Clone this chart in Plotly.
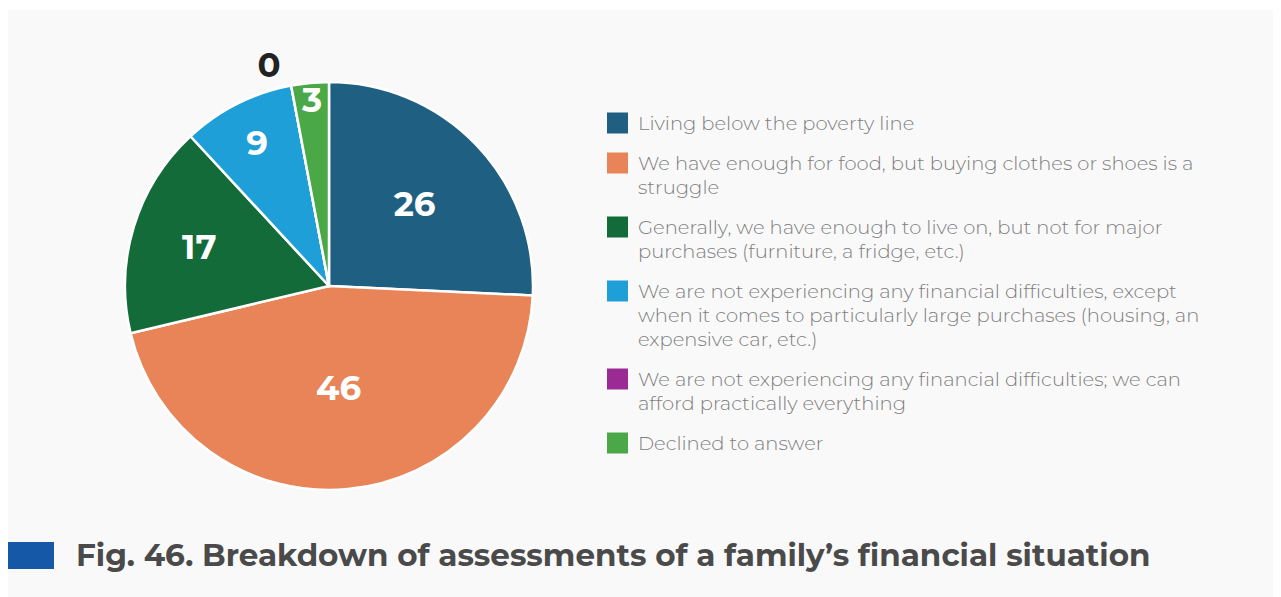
import plotly.graph_objects as go

categories = [
    "Living below the poverty line",
    "We have enough for food, but buying clothes or shoes is a<br>struggle",
    "Generally, we have enough to live on, but not for major<br>purchases (furniture, a fridge, etc.)",
    "We are not experiencing any financial difficulties, except<br>when it comes to particularly large purchases (housing, an<br>expensive car, etc.)",
    "We are not experiencing any financial difficulties; we can<br>afford practically everything",
    "Declined to answer",
]
values = [26, 46, 17, 9, 0, 3]
colors = ["#1f5f82", "#e88457", "#146b3a", "#1f9fd8", "#9c2a95", "#4aa846"]
title_text = "Fig. 46. Breakdown of assessments of a family\u2019s financial situation"

# page has an 8px body margin; figure occupies page pixels 8..1281, 8..597
OX, OY = 8, 8
W, H = 1281 - OX, 597 - OY

def px(x):
    return (x - OX) / W

def py(y):
    return (H - (y - OY)) / H

fig = go.Figure()

textpos = ["inside" if v > 0 else "outside" for v in values]
fig.add_trace(go.Pie(
    labels=[c.replace("<br>", " ") for c in categories],
    values=values,
    sort=False,
    direction="clockwise",
    rotation=0,
    marker=dict(colors=colors, line=dict(color="white", width=2.5)),
    textinfo="value",
    textposition=textpos,
    insidetextorientation="horizontal",
    insidetextfont=dict(family="Montserrat, Lato, Open Sans, sans-serif", size=34, color="white", weight=700),
    outsidetextfont=dict(family="Montserrat, Lato, Open Sans, sans-serif", size=32, color="#222222", weight=700),
    domain=dict(x=[px(125), px(533)], y=[py(490), py(82)]),
    showlegend=False,
    hoverinfo="label+value",
))

shapes = [
    dict(type="rect", xref="paper", yref="paper", x0=0, x1=1, y0=py(10), y1=1,
         fillcolor="white", line=dict(width=0), layer="below"),
    dict(type="rect", xref="paper", yref="paper", x0=px(8), x1=px(54), y0=py(569), y1=py(542),
         fillcolor="#1558a8", line=dict(width=0), layer="below"),
]
annotations = []

L = 24.0
G = 16.0
yc = 123.0
for cat, col in zip(categories, colors):
    lines = cat.split("<br>")
    shapes.append(dict(type="rect", xref="paper", yref="paper",
                       x0=px(607), x1=px(628), y0=py(yc + 10.5), y1=py(yc - 10.5),
                       fillcolor=col, line=dict(width=0)))
    for i, ln in enumerate(lines):
        annotations.append(dict(xref="paper", yref="paper", x=px(637), y=py(yc + i * L),
                                xanchor="left", yanchor="middle", align="left", showarrow=False,
                                text=ln, borderpad=0,
                                font=dict(family="Montserrat, Open Sans, sans-serif", size=19.5,
                                          color="#7d7d7d", weight=300)))
    yc += len(lines) * L + G

fig.update_layout(
    width=W, height=H,
    margin=dict(l=0, r=0, t=0, b=0),
    paper_bgcolor="#f9f9f9",
    plot_bgcolor="#f9f9f9",
    shapes=shapes,
    annotations=annotations,
    uniformtext=dict(minsize=34, mode="show"),
    title=dict(text="<b>" + title_text + "</b>", xref="paper", yref="paper",
               x=px(76), xanchor="left", y=py(555), yanchor="middle",
               font=dict(family="Montserrat, Lato, Open Sans, sans-serif", size=31, color="#4a4a4a")),
)

fig.write_html("out.html")
